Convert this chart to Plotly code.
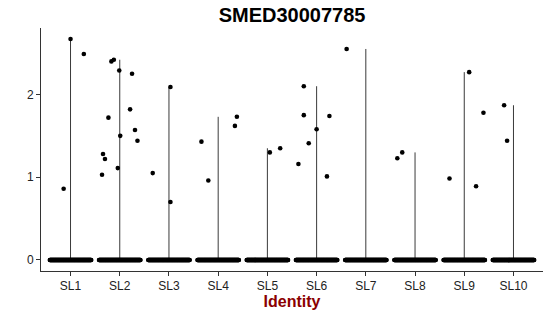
import numpy as np
import plotly.graph_objects as go

title = "SMED30007785"
categories = ["SL1", "SL2", "SL3", "SL4", "SL5", "SL6", "SL7", "SL8", "SL9", "SL10"]

# non-zero expression values per cluster
nonzero_values = [
    [2.67, 0.86, 2.49],
    [2.40, 2.42, 2.29, 2.25, 1.82, 1.72, 1.57, 1.50, 1.44, 1.28, 1.22, 1.11, 1.03],
    [2.09, 1.05, 0.70],
    [1.43, 0.96, 1.73, 1.62],
    [1.30, 1.35],
    [2.10, 1.75, 1.58, 1.74, 1.41, 1.16, 1.01],
    [2.55],
    [1.23, 1.30],
    [2.27, 1.78, 0.985, 0.89],
    [1.87, 1.44],
]
# horizontal jitter of those points (category units)
nonzero_jitter = [
    [0.00, -0.14, 0.27],
    [-0.17, -0.12, -0.01, 0.25, 0.21, -0.23, 0.31, 0.01, 0.36, -0.34, -0.30, -0.04, -0.36],
    [0.03, -0.33, 0.03],
    [-0.34, -0.20, 0.38, 0.34],
    [0.05, 0.26],
    [-0.26, -0.26, 0.00, 0.26, -0.16, -0.37, 0.21],
    [-0.39],
    [-0.36, -0.26],
    [0.10, 0.39, -0.30, 0.24],
    [-0.19, -0.13],
]
# cells with zero expression per cluster (approximate)
zero_counts = [150, 150, 150, 150, 150, 150, 150, 150, 150, 150]

fig = go.Figure()

# violins (degenerate: appear as vertical lines from 0 to max)
for i, vals in enumerate(nonzero_values):
    vmax = max(vals)
    fig.add_trace(go.Scatter(
        x=[i, i], y=[0, vmax], mode="lines",
        line=dict(color="#3a3a3a", width=1), hoverinfo="skip", showlegend=False))

# zero band points
zx, zy = [], []
for i, n in enumerate(zero_counts):
    offs = np.linspace(-0.42, 0.42, n)
    zx.extend(list(i + offs))
    zy.extend([0.0] * n)
fig.add_trace(go.Scatter(
    x=zx, y=zy, mode="markers",
    marker=dict(color="black", size=4.6, line=dict(width=0)),
    hoverinfo="skip", showlegend=False))

# non-zero points
px_, py_ = [], []
for i, (vals, jit) in enumerate(zip(nonzero_values, nonzero_jitter)):
    for v, j in zip(vals, jit):
        px_.append(i + j)
        py_.append(v)
fig.add_trace(go.Scatter(
    x=px_, y=py_, mode="markers",
    marker=dict(color="black", size=4.6, line=dict(width=0)),
    showlegend=False))

ymax = max(max(v) for v in nonzero_values)
pad = 0.05 * ymax

fig.update_layout(
    width=550, height=316,
    margin=dict(l=41, r=7, t=28, b=45),
    paper_bgcolor="white", plot_bgcolor="white",
    font=dict(family="Liberation Sans, Arial, sans-serif", size=12, color="#222"),
    title=dict(text="<b>" + title + "</b>", x=0.531, xanchor="center",
               y=0.975, yanchor="top",
               font=dict(size=20, color="black")),
    xaxis=dict(
        range=[-0.6, len(categories) - 0.4],
        tickmode="array", tickvals=list(range(len(categories))), ticktext=categories,
        showline=True, linecolor="#333", linewidth=1,
        ticks="outside", ticklen=3.5, tickcolor="#333",
        showgrid=False, zeroline=False,
        tickfont=dict(size=12, color="#222"),
        title=dict(text="<b>Identity</b>", font=dict(size=16, color="#8B0000"), standoff=2),
    ),
    yaxis=dict(
        range=[-pad, ymax + pad],
        tickvals=[0, 1, 2],
        showline=True, linecolor="#333", linewidth=1,
        ticks="outside", ticklen=4, tickcolor="#333",
        showgrid=False, zeroline=False,
        tickfont=dict(size=12, color="#222"),
    ),
)

fig.write_html("out.html")
